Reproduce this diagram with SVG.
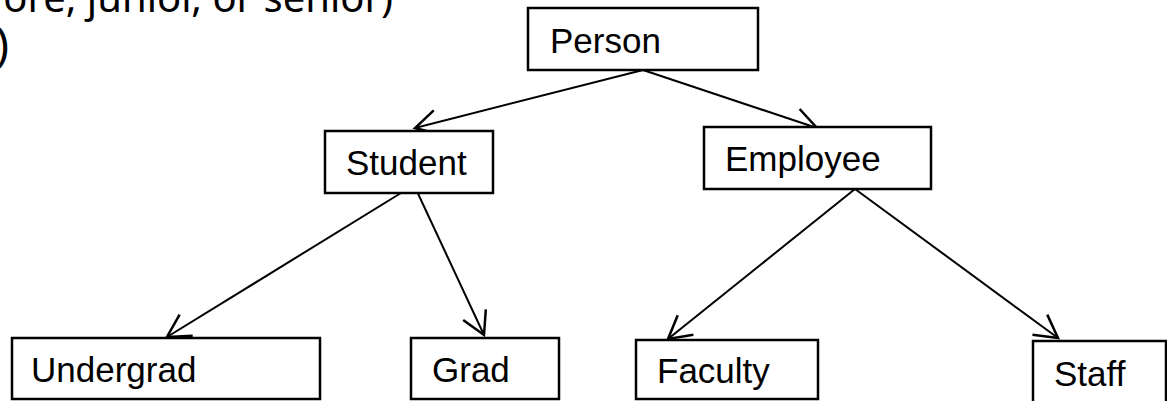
<svg xmlns="http://www.w3.org/2000/svg" width="1167" height="401" viewBox="0 0 1167 401">
<defs>
<style>
.box{fill:#fff;stroke:#000;stroke-width:2.5}
.lbl{font-family:"Liberation Sans",Arial,sans-serif;font-size:35px;fill:#000}
.note{font-family:"Noto Sans","DejaVu Sans",sans-serif;font-size:40px;fill:#000}
.edge{stroke:#000;stroke-width:2;fill:none;marker-end:url(#arr)}
</style>
<marker id="arr" markerUnits="userSpaceOnUse" markerWidth="30" markerHeight="30" viewBox="-20 -12 22 24" refX="0" refY="0" orient="auto">
<path d="M-18,-10 L0,0 L-18,10" fill="none" stroke="#000" stroke-width="2"/>
</marker>
</defs>
<rect width="1167" height="401" fill="#fff"/>
<g id="note">
<text class="note" x="393" y="12" text-anchor="end">ore, junior, or senior)</text>
<text class="note" x="9" y="61" text-anchor="end" style="font-size:45px">)</text>
</g>
<g id="connectors">
<line class="edge" x1="643" y1="70" x2="415" y2="128"/>
<line class="edge" x1="643" y1="70" x2="817" y2="128"/>
<line class="edge" x1="414" y1="185" x2="167" y2="337"/>
<line class="edge" x1="414" y1="185" x2="484" y2="335"/>
<line class="edge" x1="855" y1="189" x2="668" y2="339"/>
<line class="edge" x1="855" y1="189" x2="1058" y2="338"/>
</g>
<g id="person">
<rect class="box" x="528" y="8" width="230" height="62"/>
<text class="lbl" x="550" y="53">Person</text>
</g>
<g id="student">
<rect class="box" x="325" y="131" width="168" height="62"/>
<text class="lbl" x="346" y="175">Student</text>
</g>
<g id="employee">
<rect class="box" x="704" y="127" width="227" height="62"/>
<text class="lbl" x="725" y="171">Employee</text>
</g>
<g id="undergrad">
<rect class="box" x="12" y="338" width="308" height="61"/>
<text class="lbl" x="31" y="382">Undergrad</text>
</g>
<g id="grad">
<rect class="box" x="411" y="338" width="148" height="61"/>
<text class="lbl" x="432" y="382">Grad</text>
</g>
<g id="faculty">
<rect class="box" x="636" y="340" width="182" height="59"/>
<text class="lbl" x="657" y="383">Faculty</text>
</g>
<g id="staff">
<rect class="box" x="1033" y="341" width="133" height="70"/>
<text class="lbl" x="1054" y="386">Staff</text>
</g>
</svg>
